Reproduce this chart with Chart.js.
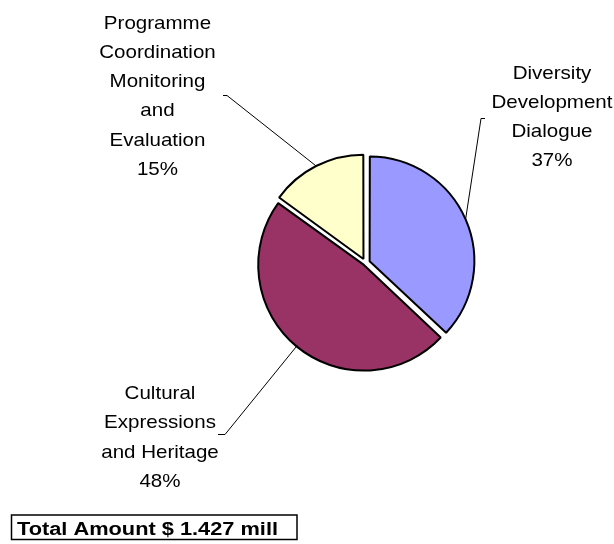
<!DOCTYPE html>
<html>
<head>
<meta charset="utf-8">
<script src="https://cdn.jsdelivr.net/npm/chart.js@4/dist/chart.umd.min.js"></script>
<style>
  html, body { margin: 0; padding: 0; background: #fff; }
  #chart_container { width: 614px; height: 544px; }
</style>
</head>
<body>
<div id="chart_container">
  <canvas id="myChart" width="614" height="544"></canvas>
</div>
<script>
// budget shares by programme (per cent)
const categories = [
  ['Diversity', 'Development', 'Dialogue'],
  ['Cultural', 'Expressions', 'and Heritage'],
  ['Programme', 'Coordination', 'Monitoring', 'and', 'Evaluation']
];
const shares = [37, 48, 15];
const sliceColors = ['#9999FF', '#993366', '#FFFFCC'];
const totalText = 'Total Amount $ 1.427 mill';

// where each label block sits and where its leader line starts
const labelLayout = [
  { x: 552, y: 78.5, tick: [485, 118, 481, 118] },
  { x: 160, y: 399, tick: [218, 434, 225, 434] },
  { x: 157.5, y: 28.5, tick: [223, 95, 227, 95] }
];
const lineStep = 29.3;

// text drawn a little wide, like the old office export
function wideText(ctx, txt, x, y, sx) {
  ctx.save();
  ctx.translate(x, y);
  ctx.scale(sx, 1);
  ctx.fillText(txt, 0, 0);
  ctx.restore();
}

const pieLabels = {
  id: 'pieLabels',
  afterDatasetsDraw(chart) {
    const ctx = chart.ctx;
    const arcs = chart.getDatasetMeta(0).data;
    ctx.save();
    ctx.fillStyle = '#000';
    ctx.strokeStyle = '#000';
    ctx.textAlign = 'center';
    ctx.textBaseline = 'alphabetic';
    ctx.font = '18.5px "Liberation Sans", Arial, sans-serif';

    arcs.forEach((arc, i) => {
      const lay = labelLayout[i];
      const lines = categories[i].concat([shares[i] + '%']);
      lines.forEach((txt, j) => {
        wideText(ctx, txt, lay.x, lay.y + j * lineStep, 1.11);
      });

      // leader line: short tick, then to the middle of the slice rim
      const mid = (arc.startAngle + arc.endAngle) / 2;
      const shift = (arc.options.offset || 0) / 4;
      const r = arc.outerRadius + 1;
      const ex = arc.x + Math.cos(mid) * (shift + r);
      const ey = arc.y + Math.sin(mid) * (shift + r);
      ctx.lineWidth = 1;
      ctx.beginPath();
      ctx.moveTo(lay.tick[0], lay.tick[1] + 0.5);
      ctx.lineTo(lay.tick[2], lay.tick[3] + 0.5);
      ctx.lineTo(ex, ey);
      ctx.stroke();
    });

    // total box at the bottom
    ctx.lineWidth = 1.5;
    ctx.strokeRect(11.5, 515, 285.5, 24.5);
    ctx.textAlign = 'left';
    ctx.font = 'bold 18px "Liberation Sans", Arial, sans-serif';
    wideText(ctx, totalText, 17, 535, 1.21);
    ctx.restore();
  }
};

const ctx = document.getElementById('myChart').getContext('2d');
const chart = new Chart(ctx, {
  type: 'pie',
  data: {
    labels: categories.map(c => c.join(' ')),
    datasets: [{
      data: shares,
      backgroundColor: sliceColors,
      borderColor: '#000',
      borderWidth: 2,
      offset: [18, 10, 18]
    }]
  },
  options: {
    responsive: false,
    animation: false,
    radius: 103.5,
    layout: {
      padding: { left: 250, right: 133, top: 150, bottom: 168 }
    },
    plugins: {
      legend: { display: false },
      tooltip: { enabled: false }
    },
    events: []
  },
  plugins: [pieLabels]
});
</script>
</body>
</html>
